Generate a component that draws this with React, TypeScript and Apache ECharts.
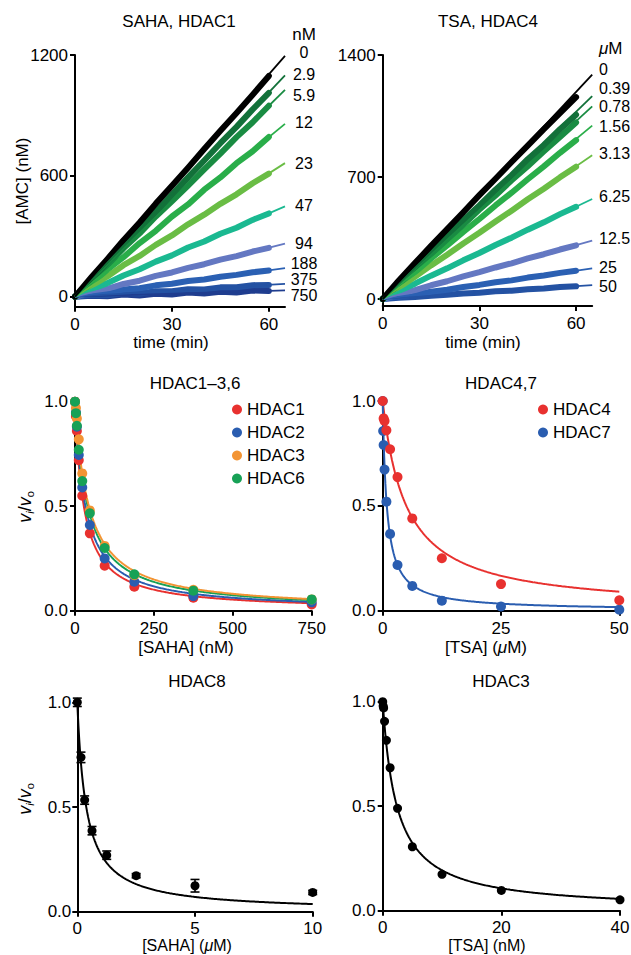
import React, { useEffect, useRef } from 'react';
import * as echarts from 'echarts';

const FONT = '"Liberation Sans", Arial, Helvetica, sans-serif';

// ---------- Panel A: SAHA, HDAC1 progress curves ----------
const timeMin = [0, 5, 10, 15, 20, 25, 30, 35, 40, 45, 50, 55, 60];
const sahaConcLabels = ['0', '2.9', '5.9', '12', '23', '47', '94', '188', '375', '750'];
const sahaAmc = [
  [0, 95, 186, 280, 368, 462, 551, 640, 733, 824, 912, 1003, 1096],
  [0, 82, 171, 250, 339, 421, 507, 592, 676, 762, 843, 930, 1012],
  [0, 81, 156, 240, 314, 398, 473, 551, 632, 710, 792, 866, 948],
  [0, 64, 134, 196, 266, 327, 398, 458, 531, 592, 663, 722, 793],
  [0, 53, 100, 156, 202, 257, 304, 359, 407, 461, 508, 563, 611],
  [0, 36, 67, 105, 136, 174, 205, 244, 274, 312, 342, 381, 413],
  [0, 23, 39, 63, 79, 103, 120, 143, 161, 184, 201, 224, 242],
  [0, 13, 20, 35, 42, 56, 64, 78, 85, 99, 108, 121, 130],
  [0, 8, 7, 18, 16, 27, 27, 37, 36, 46, 47, 57, 58],
  [0, 4, 2, 10, 6, 14, 11, 20, 16, 24, 21, 30, 28],
];
const sahaSlope = [18.4, 16.9, 15.8, 13.2, 10.2, 6.9, 4.05, 2.18, 0.98, 0.48];

// ---------- Panel B: TSA, HDAC4 progress curves ----------
const tsaConcLabels = ['0', '0.39', '0.78', '1.56', '3.13', '6.25', '12.5', '25', '50'];
const tsaAmc = [
  [0, 106, 206, 305, 401, 498, 596, 690, 786, 880, 975, 1067, 1158],
  [0, 93, 182, 274, 361, 452, 537, 627, 711, 802, 884, 974, 1057],
  [0, 86, 173, 257, 343, 426, 513, 594, 681, 762, 847, 929, 1013],
  [0, 79, 154, 233, 307, 385, 459, 537, 610, 687, 761, 839, 912],
  [0, 66, 128, 193, 254, 319, 380, 445, 507, 572, 633, 698, 759],
  [0, 46, 88, 134, 176, 222, 264, 310, 352, 398, 440, 487, 529],
  [0, 27, 51, 79, 102, 130, 154, 181, 205, 233, 257, 284, 308],
  [0, 15, 27, 42, 53, 69, 81, 96, 107, 123, 135, 150, 162],
  [0, 7, 12, 19, 24, 32, 36, 44, 48, 56, 61, 69, 73],
];
const tsaSlope = [19.8, 17.9, 17.0, 15.3, 12.7, 8.83, 5.15, 2.71, 1.23];
const fitEndMin = 65;

// ---------- Panel C: HDAC1-3,6 vs SAHA (nM) ----------
const sahaNM = [0, 2.9, 5.9, 12, 23, 47, 94, 188, 375, 750];
const hdac1 = [1.0, 0.93, 0.86, 0.72, 0.55, 0.37, 0.215, 0.115, 0.062, 0.03];
const hdac2 = [1.0, 0.95, 0.88, 0.745, 0.59, 0.41, 0.25, 0.139, 0.07, 0.04];
const hdac3 = [1.0, 0.97, 0.92, 0.82, 0.657, 0.48, 0.31, 0.17, 0.1, 0.054];
const hdac6 = [1.0, 0.945, 0.885, 0.77, 0.62, 0.466, 0.3, 0.174, 0.096, 0.054];
const ic50Saha = { HDAC1: 28, HDAC2: 33, HDAC3: 44, HDAC6: 40 };

// ---------- Panel D: HDAC4,7 vs TSA (uM) ----------
const tsaUM4 = [0, 0.195, 0.39, 0.78, 1.56, 3.13, 6.25, 12.5, 25, 50];
const hdac4 = [1.0, 0.917, 0.905, 0.86, 0.77, 0.637, 0.44, 0.25, 0.127, 0.05];
const tsaUM7 = [0, 0.098, 0.195, 0.39, 0.78, 1.56, 3.13, 6.25, 12.5, 25, 50];
const hdac7 = [1.0, 0.857, 0.79, 0.673, 0.52, 0.366, 0.218, 0.118, 0.048, 0.02, 0.005];
const ic50Tsa = { HDAC4: 5.0, HDAC7: 0.87 };

// ---------- Panel E: HDAC8 vs SAHA (uM) ----------
const sahaUM = [0, 0.156, 0.3125, 0.625, 1.25, 2.5, 5, 10];
const hdac8 = [1.0, 0.737, 0.533, 0.387, 0.27, 0.172, 0.124, 0.092];
const hdac8Err = [0.02, 0.025, 0.02, 0.02, 0.02, 0.01, 0.03, 0.01];
const ic50Hdac8 = 0.38;

// ---------- Panel F: HDAC3 vs TSA (nM) ----------
const tsaNM = [0, 0.078, 0.156, 0.3125, 0.625, 1.25, 2.5, 5, 10, 20, 40];
const hdac3Tsa = [1.0, 0.98, 0.97, 0.906, 0.815, 0.684, 0.49, 0.306, 0.174, 0.097, 0.052];
const ic50Hdac3Tsa = 2.4;

// ---------- styles ----------
const progressColorsA = ['#000000', '#13713a', '#1a8c43', '#2aae4a', '#6abd45', '#1bb991', '#6478c2', '#2b60b3', '#2452a3', '#1f3d8f'];
const progressColorsB = ['#000000', '#13713a', '#1a8c43', '#2aae4a', '#6abd45', '#1bb991', '#6478c2', '#2b60b3', '#2452a3'];
const RED = '#e8312f';
const BLUE = '#2a5db0';
const ORANGE = '#f39433';
const GREEN = '#17a156';

// fitted single-site inhibition curve v/v0 = 1/(1 + [I]/IC50), sampled densely near zero
function fitCurve(ic50: number, xmax: number) {
  const pts: number[][] = [];
  const n = 300;
  for (let k = 0; k <= n; k++) {
    const x = xmax * (k / n) * (k / n);
    pts.push([x, 1 / (1 + x / ic50)]);
  }
  return pts;
}

const axisLine = { onZero: false, lineStyle: { color: '#000', width: 2 } };
const labelBase = { fontSize: 17, color: '#000', fontFamily: FONT };

function xAxis(gridIndex: number, min: number, max: number, ticks: number[], margin = 9) {
  return {
    type: 'value', gridIndex, min, max,
    axisLine,
    axisTick: { show: true, length: 5, lineStyle: { color: '#000', width: 2 }, customValues: ticks },
    axisLabel: { ...labelBase, margin, customValues: ticks, showMinLabel: true, showMaxLabel: true },
    splitLine: { show: false },
  };
}
function yAxis(gridIndex: number, min: number, max: number, ticks: number[], decimals: number, margin: number) {
  return {
    type: 'value', gridIndex, min, max,
    axisLine,
    axisTick: { show: true, length: 5, lineStyle: { color: '#000', width: 2 }, customValues: ticks },
    axisLabel: { ...labelBase, margin, customValues: ticks, formatter: (v: number) => v.toFixed(decimals) },
    splitLine: { show: false },
  };
}

function buildOption() {
  const series: any[] = [];

  // Panel A bands then fits
  for (let i = sahaAmc.length - 1; i >= 0; i--) {
    series.push({
      type: 'line', xAxisIndex: 0, yAxisIndex: 0, name: 'SAHA ' + sahaConcLabels[i] + ' nM',
      data: timeMin.map((t, k) => [t, sahaAmc[i][k]]),
      symbol: 'none', clip: false, silent: true, z: 2,
      lineStyle: { color: progressColorsA[i], width: 6, cap: 'round', join: 'round' },
    });
  }
  for (let i = sahaAmc.length - 1; i >= 0; i--) {
    series.push({
      type: 'line', xAxisIndex: 0, yAxisIndex: 0, name: 'SAHA fit ' + sahaConcLabels[i],
      data: [[0, 0], [fitEndMin, sahaSlope[i] * fitEndMin]],
      symbol: 'none', clip: false, silent: true, z: 3,
      lineStyle: { color: progressColorsA[i], width: 1.8 },
    });
  }
  // Panel B
  for (let i = tsaAmc.length - 1; i >= 0; i--) {
    series.push({
      type: 'line', xAxisIndex: 1, yAxisIndex: 1, name: 'TSA ' + tsaConcLabels[i] + ' uM',
      data: timeMin.map((t, k) => [t, tsaAmc[i][k]]),
      symbol: 'none', clip: false, silent: true, z: 2,
      lineStyle: { color: progressColorsB[i], width: 6, cap: 'round', join: 'round' },
    });
  }
  for (let i = tsaAmc.length - 1; i >= 0; i--) {
    series.push({
      type: 'line', xAxisIndex: 1, yAxisIndex: 1, name: 'TSA fit ' + tsaConcLabels[i],
      data: [[0, 0], [fitEndMin, tsaSlope[i] * fitEndMin]],
      symbol: 'none', clip: false, silent: true, z: 3,
      lineStyle: { color: progressColorsB[i], width: 1.8 },
    });
  }

  // Panel C
  const panelC: [string, string, number][] = [
    ['HDAC1', RED, ic50Saha.HDAC1],
    ['HDAC2', BLUE, ic50Saha.HDAC2],
    ['HDAC6', GREEN, ic50Saha.HDAC6],
    ['HDAC3', ORANGE, ic50Saha.HDAC3],
  ];
  panelC.forEach(([name, color, ic]) => {
    series.push({
      type: 'line', xAxisIndex: 2, yAxisIndex: 2, name: name + ' fit',
      data: fitCurve(ic, 750), symbol: 'none', clip: false, silent: true, z: 2,
      lineStyle: { color, width: 2 },
    });
  });
  [['HDAC1', hdac1, RED], ['HDAC2', hdac2, BLUE], ['HDAC3', hdac3, ORANGE], ['HDAC6', hdac6, GREEN]].forEach(([name, vals, color]: any) => {
    series.push({
      type: 'scatter', xAxisIndex: 2, yAxisIndex: 2, name,
      data: sahaNM.map((c, k) => [c, vals[k]]), symbolSize: 10, clip: false, z: 4,
      itemStyle: { color, opacity: 1 },
    });
  });

  // Panel D
  series.push({
    type: 'line', xAxisIndex: 3, yAxisIndex: 3, name: 'HDAC4 fit', data: fitCurve(ic50Tsa.HDAC4, 50),
    symbol: 'none', clip: false, silent: true, z: 2, lineStyle: { color: RED, width: 2 },
  });
  series.push({
    type: 'line', xAxisIndex: 3, yAxisIndex: 3, name: 'HDAC7 fit', data: fitCurve(ic50Tsa.HDAC7, 50),
    symbol: 'none', clip: false, silent: true, z: 2, lineStyle: { color: BLUE, width: 2 },
  });
  series.push({
    type: 'scatter', xAxisIndex: 3, yAxisIndex: 3, name: 'HDAC7',
    data: tsaUM7.map((c, k) => [c, hdac7[k]]), symbolSize: 10, clip: false, z: 4, itemStyle: { color: BLUE, opacity: 1 },
  });
  series.push({
    type: 'scatter', xAxisIndex: 3, yAxisIndex: 3, name: 'HDAC4',
    data: tsaUM4.map((c, k) => [c, hdac4[k]]), symbolSize: 10, clip: false, z: 5, itemStyle: { color: RED, opacity: 1 },
  });

  // Panel E
  series.push({
    type: 'line', xAxisIndex: 4, yAxisIndex: 4, name: 'HDAC8 fit', data: fitCurve(ic50Hdac8, 10),
    symbol: 'none', clip: false, silent: true, z: 2, lineStyle: { color: '#000', width: 2 },
  });
  series.push({
    type: 'custom', xAxisIndex: 4, yAxisIndex: 4, name: 'HDAC8 error',
    data: sahaUM.map((c, k) => [c, hdac8[k], hdac8Err[k]]), clip: false, silent: true, z: 3,
    renderItem: (params: any, api: any) => {
      const x = api.value(0);
      const y = api.value(1);
      const e = api.value(2);
      const top = api.coord([x, y + e]);
      const bot = api.coord([x, y - e]);
      const hw = 4.5;
      const st = { stroke: '#000', lineWidth: 1.6 };
      return {
        type: 'group',
        children: [
          { type: 'line', shape: { x1: top[0], y1: top[1], x2: bot[0], y2: bot[1] }, style: st },
          { type: 'line', shape: { x1: top[0] - hw, y1: top[1], x2: top[0] + hw, y2: top[1] }, style: st },
          { type: 'line', shape: { x1: bot[0] - hw, y1: bot[1], x2: bot[0] + hw, y2: bot[1] }, style: st },
        ],
      };
    },
  });
  series.push({
    type: 'scatter', xAxisIndex: 4, yAxisIndex: 4, name: 'HDAC8',
    data: sahaUM.map((c, k) => [c, hdac8[k]]), symbolSize: 9, clip: false, z: 4, itemStyle: { color: '#000', opacity: 1 },
  });

  // Panel F
  series.push({
    type: 'line', xAxisIndex: 5, yAxisIndex: 5, name: 'HDAC3 TSA fit', data: fitCurve(ic50Hdac3Tsa, 40),
    symbol: 'none', clip: false, silent: true, z: 2, lineStyle: { color: '#000', width: 2 },
  });
  series.push({
    type: 'scatter', xAxisIndex: 5, yAxisIndex: 5, name: 'HDAC3 (TSA)',
    data: tsaNM.map((c, k) => [c, hdac3Tsa[k]]), symbolSize: 9, clip: false, z: 4, itemStyle: { color: '#000', opacity: 1 },
  });

  const txt = (text: string, x: number, y: number, align = 'center', size = 17) => ({
    type: 'text', x, y, silent: true,
    style: { text, fontSize: size, fontFamily: FONT, fill: '#000', align, verticalAlign: 'middle', lineHeight: size },
  });
  const muStyles = (size: number) => ({
    mu: { fontSize: size, fontFamily: FONT, fontStyle: 'italic', fill: '#000', lineHeight: size },
    r: { fontSize: size, fontFamily: FONT, fill: '#000', lineHeight: size },
  });
  const richMu = muStyles(17);
  const richMuSmall = muStyles(16);
  const vRich = {
    v: { fontSize: 18, fontFamily: FONT, fontStyle: 'italic', lineHeight: 20, fill: '#000' },
    si: { fontSize: 11, fontFamily: FONT, fontStyle: 'italic', lineHeight: 11, verticalAlign: 'bottom', fill: '#000' },
    so: { fontSize: 11, fontFamily: FONT, lineHeight: 11, verticalAlign: 'bottom', fill: '#000' },
    n: { fontSize: 18, fontFamily: FONT, lineHeight: 20, fill: '#000' },
  };

  const labelYA = [52, 74, 95, 122, 163, 205, 243, 263, 279, 295];
  const labelYB = [69, 88, 106, 126, 153, 196, 238, 267, 286];

  const graphic: any[] = [
    txt('nM', 304, 34),
    ...sahaConcLabels.map((l, i) => txt(l, 304, labelYA[i], 'center', 16)),
    { type: 'text', x: 599, y: 48, silent: true, style: { text: '{mu|μ}{r|M}', rich: richMu, align: 'left', verticalAlign: 'middle' } },
    ...tsaConcLabels.map((l, i) => txt(l, 599, labelYB[i], 'left', 16)),
    txt('time (min)', 171, 342),
    txt('time (min)', 483, 342),
    { ...txt('[AMC] (nM)', 22, 181), rotation: Math.PI / 2 },
    txt('[SAHA] (nM)', 186, 647),
    { type: 'text', x: 486, y: 647, silent: true, style: { text: '{r|[TSA] (}{mu|μ}{r|M)}', rich: richMu, align: 'center', verticalAlign: 'middle' } },
    { type: 'text', x: 187, y: 945.5, silent: true, style: { text: '{r|[SAHA] (}{mu|μ}{r|M)}', rich: richMuSmall, align: 'center', verticalAlign: 'middle' } },
    txt('[TSA] (nM)', 487, 945.5, 'center', 16),
    { type: 'text', x: 25, y: 507, rotation: Math.PI / 2, silent: true, style: { text: '{v|v}{si|i}{n|/}{v|v}{so|o}', rich: vRich, align: 'center', verticalAlign: 'middle' } },
    { type: 'text', x: 25, y: 799, rotation: Math.PI / 2, silent: true, style: { text: '{v|v}{si|i}{n|/}{v|v}{so|o}', rich: vRich, align: 'center', verticalAlign: 'middle' } },
  ];

  const titleStyle = { fontSize: 17, fontWeight: 'normal', color: '#000', fontFamily: FONT };
  const title = [
    { text: 'SAHA, HDAC1', left: 179, top: 13, textAlign: 'center', padding: 0, textStyle: titleStyle },
    { text: 'TSA, HDAC4', left: 488, top: 13, textAlign: 'center', padding: 0, textStyle: titleStyle },
    { text: 'HDAC1–3,6', left: 195, top: 375, textAlign: 'center', padding: 0, textStyle: titleStyle },
    { text: 'HDAC4,7', left: 501, top: 375, textAlign: 'center', padding: 0, textStyle: titleStyle },
    { text: 'HDAC8', left: 197, top: 673, textAlign: 'center', padding: 0, textStyle: titleStyle },
    { text: 'HDAC3', left: 501, top: 673, textAlign: 'center', padding: 0, textStyle: titleStyle },
  ];

  const legendBase = {
    orient: 'vertical', icon: 'circle', itemWidth: 10, itemHeight: 10, itemGap: 6, padding: 0,
    textStyle: { fontSize: 17, color: '#000', fontFamily: FONT, lineHeight: 17 },
    selectedMode: false,
  };

  const gridBase = { containLabel: false, outerBoundsMode: 'none' };

  return {
    animation: false,
    backgroundColor: '#fff',
    title,
    legend: [
      { ...legendBase, left: 232, top: 401, data: ['HDAC1', 'HDAC2', 'HDAC3', 'HDAC6'] },
      { ...legendBase, left: 538, top: 401, data: ['HDAC4', 'HDAC7'] },
    ],
    grid: [
      { ...gridBase, left: 75, top: 55, width: 210, height: 251.7 },
      { ...gridBase, left: 382.7, top: 55, width: 209.5, height: 251 },
      { ...gridBase, left: 75, top: 401.7, width: 236.7, height: 209 },
      { ...gridBase, left: 382.7, top: 401, width: 236.6, height: 209.7 },
      { ...gridBase, left: 77.3, top: 702.3, width: 235.4, height: 209.4 },
      { ...gridBase, left: 382.7, top: 701.7, width: 237.3, height: 209 },
    ],
    xAxis: [
      xAxis(0, 0, 65, [0, 30, 60]),
      xAxis(1, 0, 65, [0, 30, 60]),
      xAxis(2, 0, 750, [0, 250, 500, 750]),
      xAxis(3, 0, 50, [0, 25, 50]),
      xAxis(4, 0, 10, [0, 5, 10], 8),
      xAxis(5, 0, 40, [0, 20, 40], 8),
    ],
    yAxis: [
      yAxis(0, -50, 1200, [0, 600, 1200], 0, 7),
      yAxis(1, -40, 1400, [0, 700, 1400], 0, 7),
      yAxis(2, 0, 1, [0, 0.5, 1], 1, 7),
      yAxis(3, 0, 1, [0, 0.5, 1], 1, 7),
      yAxis(4, 0, 1, [0, 0.5, 1], 1, 6),
      yAxis(5, 0, 1, [0, 0.5, 1], 1, 7),
    ],
    graphic,
    series,
  };
}

export default function App() {
  const ref = useRef<HTMLDivElement>(null);
  useEffect(() => {
    if (!ref.current) return;
    const chart = echarts.init(ref.current, null, { renderer: 'svg' });
    chart.setOption(buildOption() as any);
    return () => chart.dispose();
  }, []);
  return (
    <div
      ref={ref}
      style={{ position: 'fixed', left: 0, top: 0, width: 631, height: 955, background: '#fff' }}
    />
  );
}
